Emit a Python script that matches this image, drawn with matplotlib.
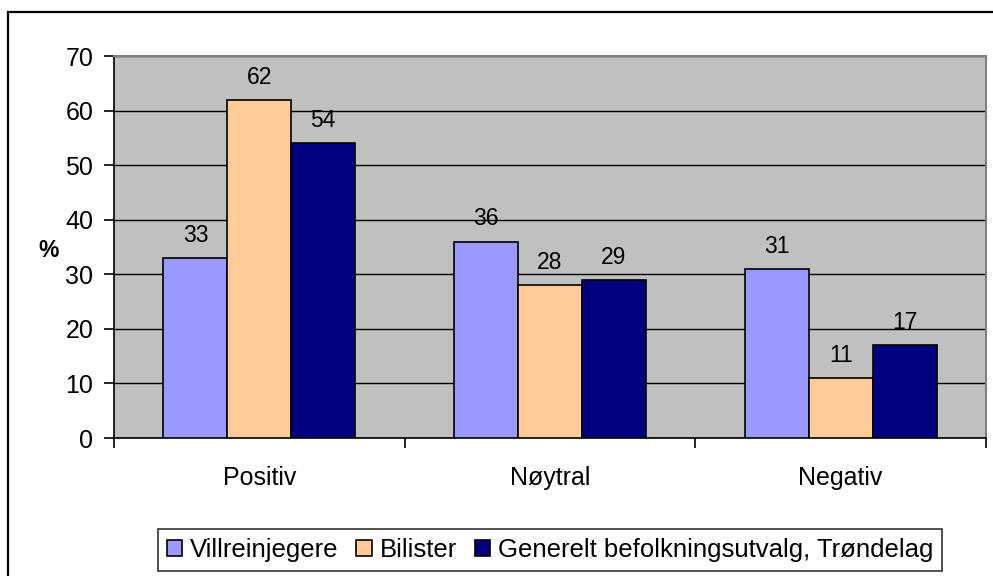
import numpy as np
import matplotlib.pyplot as plt
from matplotlib.patches import Rectangle

plt.rcParams['font.family'] = ['Liberation Sans', 'DejaVu Sans']

# data
categories = ["Positiv", "Nøytral", "Negativ"]
series = ["Villreinjegere", "Bilister", "Generelt befolkningsutvalg, Trøndelag"]
villrein = [33, 36, 31]
bilister = [62, 28, 11]
generelt = [54, 29, 17]
colors = ["#9999FF", "#FFCC99", "#000080"]

W, H = 993, 576
fig = plt.figure(figsize=(W / 100, H / 100), dpi=100)

# outer chart border (runs off the right and bottom edges)
fig.patches.append(Rectangle((8 / W, 0 - 0.01), 1.0, (H - 12) / H + 0.01,
                             transform=fig.transFigure, fill=False,
                             edgecolor="black", linewidth=1.6))

ax = fig.add_axes([114 / W, (H - 438) / H, (986 - 114) / W, (438 - 56) / H])
ax.set_facecolor("#C0C0C0")

x = np.arange(len(categories))
bw = 0.22
values = [villrein, bilister, generelt]
for i, (vals, name, col) in enumerate(zip(values, series, colors)):
    pos = x + (i - 1) * bw
    bars = ax.bar(pos, vals, bw, color=col, edgecolor="black", linewidth=1.2,
                  label=name, zorder=3)
    for b, v in zip(bars, vals):
        ax.annotate(str(v), (b.get_x() + b.get_width() / 2, v),
                    xytext=(0, 8), textcoords="offset points",
                    ha="center", va="bottom", fontsize=16.5, zorder=4)

ax.set_xlim(-0.5, 2.5)
ax.set_ylim(0, 70)
ax.set_yticks(range(0, 71, 10))
ax.yaxis.grid(True, color="black", linewidth=1.0, zorder=0)
ax.set_axisbelow(True)

ax.set_xticks([-0.5, 0.5, 1.5, 2.5])
ax.set_xticklabels([])
ax.set_xticks(x, minor=True)
ax.set_xticklabels(categories, minor=True, fontsize=18)
ax.tick_params(axis="x", which="minor", length=0, pad=20)
ax.tick_params(axis="x", which="major", length=7, width=1.2, direction="out")
ax.tick_params(axis="y", length=7, width=1.2, direction="out", labelsize=18, pad=8)

for s in ["top", "right"]:
    ax.spines[s].set_color("#808080")
    ax.spines[s].set_linewidth(1.5)
ax.spines["left"].set_linewidth(1.2)
ax.spines["bottom"].set_linewidth(1.2)

ax.set_ylabel("%", rotation=0, fontsize=16.5, fontweight="bold")
ax.yaxis.set_label_coords(-0.075, 0.46)

leg = fig.legend(loc="center", bbox_to_anchor=(550 / W, 1 - 550 / H), ncol=3,
                 fontsize=18.5, frameon=True, fancybox=False, edgecolor="black",
                 handlelength=0.6, handleheight=0.6, handletextpad=0.3,
                 columnspacing=0.7, borderpad=0.35, borderaxespad=0)
leg.get_frame().set_linewidth(1.2)

fig.savefig("out.png", dpi=100)
